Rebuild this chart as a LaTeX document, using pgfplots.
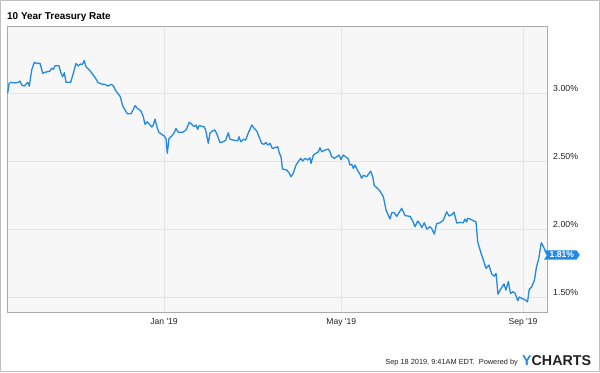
\documentclass[border=0pt]{standalone}
\usepackage{fontspec}
\setmainfont{Liberation Sans}
\usepackage{pgfplots}
\pgfplotsset{compat=1.18}
\usepackage{pgfplotstable}
\usetikzlibrary{shapes.symbols}
\definecolor{ycblue}{RGB}{33,137,230}
\definecolor{plotbg}{RGB}{247,247,247}
\definecolor{gridc}{RGB}{228,228,228}
\definecolor{framec}{RGB}{170,170,170}
\definecolor{txt}{RGB}{34,34,34}

\pgfplotstableread{
d v
-105.8 3.000
-104.9 3.071
-103.6 3.079
-100.9 3.074
-98.6 3.079
-97.5 3.088
-96.3 3.059
-94.6 3.051
-92.3 3.079
-91.2 3.051
-89.6 3.169
-87.8 3.226
-86.2 3.218
-83.9 3.218
-82.1 3.145
-80.6 3.152
-77.2 3.162
-76.0 3.182
-74.9 3.174
-73.8 3.201
-71.1 3.201
-69.7 3.145
-68.6 3.120
-67.5 3.149
-66.3 3.079
-64.8 3.079
-63.2 3.079
-61.4 3.145
-59.6 3.218
-58.0 3.199
-56.7 3.213
-55.3 3.211
-54.0 3.238
-52.8 3.193
-50.1 3.164
-47.9 3.132
-45.6 3.096
-44.9 3.079
-42.2 3.066
-39.9 3.064
-38.1 3.051
-35.9 3.064
-34.3 3.054
-32.7 3.017
-30.9 2.993
-29.6 2.973
-28.0 2.907
-26.4 2.875
-24.8 2.848
-22.3 2.848
-21.0 2.875
-19.6 2.907
-18.1 2.888
-15.6 2.868
-14.0 2.826
-12.9 2.770
-11.3 2.789
-10.0 2.772
-8.3 2.750
-7.2 2.765
-6.1 2.809
-4.5 2.740
-3.4 2.711
-1.6 2.696
0.2 2.684
1.4 2.660
2.2 2.557
3.4 2.667
5.2 2.684
7.0 2.711
8.1 2.740
9.7 2.711
12.4 2.711
14.7 2.726
15.4 2.740
17.1 2.785
18.8 2.770
20.5 2.752
21.7 2.765
22.8 2.733
23.7 2.760
25.5 2.757
27.1 2.752
28.2 2.728
30.0 2.630
31.1 2.704
32.7 2.721
34.5 2.728
36.1 2.691
37.9 2.635
40.1 2.642
41.8 2.654
43.5 2.708
44.7 2.660
46.9 2.654
49.9 2.649
50.8 2.679
51.9 2.642
53.7 2.660
55.3 2.654
57.1 2.708
58.2 2.733
59.4 2.765
61.1 2.740
62.8 2.721
64.3 2.679
66.1 2.630
67.7 2.623
68.9 2.637
70.2 2.618
71.8 2.630
73.3 2.593
75.1 2.598
77.0 2.605
78.1 2.557
79.2 2.532
80.2 2.441
83.1 2.434
84.8 2.410
86.0 2.385
87.5 2.410
89.4 2.471
90.9 2.495
92.5 2.520
93.9 2.500
95.5 2.520
97.3 2.507
98.8 2.524
99.5 2.483
101.1 2.544
102.9 2.557
104.5 2.568
105.6 2.598
106.8 2.568
109.0 2.581
111.2 2.588
112.4 2.568
113.5 2.532
115.3 2.520
116.9 2.532
118.5 2.544
119.8 2.512
121.4 2.544
123.0 2.532
124.8 2.515
125.9 2.471
127.1 2.476
128.2 2.446
129.3 2.471
130.9 2.434
132.7 2.402
133.8 2.373
134.9 2.395
137.2 2.385
139.9 2.426
141.3 2.385
142.4 2.318
144.0 2.305
146.2 2.279
148.5 2.238
150.3 2.140
153.0 2.074
154.2 2.120
155.9 2.120
157.5 2.093
160.9 2.152
163.2 2.099
166.6 2.093
168.4 2.059
169.9 2.017
171.8 2.059
173.3 2.037
174.5 2.011
176.2 2.046
177.9 2.000
180.1 2.017
181.2 2.004
183.0 1.963
184.6 2.040
186.9 2.046
189.1 2.066
191.4 2.127
193.0 2.096
195.2 2.108
196.3 2.125
198.2 2.044
200.4 2.049
202.6 2.046
203.8 2.074
204.9 2.051
205.6 2.079
207.2 2.074
210.1 2.057
211.2 2.054
212.4 1.904
214.6 1.824
216.2 1.772
218.0 1.711
220.0 1.735
221.9 1.669
223.6 1.654
224.8 1.674
226.1 1.522
228.6 1.570
230.2 1.596
231.5 1.551
233.1 1.614
234.6 1.526
236.1 1.539
237.6 1.529
239.5 1.473
240.5 1.500
242.2 1.490
244.4 1.480
246.1 1.465
247.3 1.557
248.9 1.574
250.8 1.625
252.1 1.717
253.7 1.783
255.4 1.899
256.9 1.870
259.3 1.810
}\rates

\begin{document}
\begin{tikzpicture}[x=1bp,y=1bp]
\useasboundingbox (0,0) rectangle (600,372);
\fill[white] (0,0) rectangle (600,372);
\draw[line width=1bp, black!25] (0.5,0.5) rectangle (599.5,371.5);
\node[anchor=base west, inner sep=0pt, font=\bfseries\fontsize{10}{12}\selectfont, text=black] at (7,352.7) {10 Year Treasury Rate};
\begin{axis}[
  at={(7bp,60bp)}, anchor=south west,
  scale only axis, width=540bp, height=286bp,
  xmin=-106.3, xmax=259.3, ymin=1.39, ymax=3.493,
  axis background/.style={fill=plotbg},
  axis line style={framec, line width=0.8bp},
  grid=major, major grid style={gridc, line width=0.8bp},
  major tick length=0pt,
  xtick={0,120,243},
  xticklabels={Jan \textquotesingle19, May \textquotesingle19, Sep \textquotesingle19},
  xticklabel style={anchor=north, inner sep=0pt, yshift=-6.5bp, font=\fontsize{8.6}{10}\selectfont, text=txt},
  ytick={1.5,2.0,2.5,3.0},
  yticklabel pos=right,
  yticklabel={\pgfmathprintnumber[fixed,fixed zerofill,precision=2]{\tick}\%},
  yticklabel style={anchor=base west, inner sep=0pt, xshift=6bp, yshift=1.5bp, font=\fontsize{8.8}{10}\selectfont, text=txt},
  /pgf/number format/assume math mode=true,
  clip=false,
]
\addplot[ycblue, line width=1.3bp, line join=round] table[x=d,y=v] {\rates};
\node[signal, signal from=west, signal pointer angle=110, fill=ycblue, text=white,
  font=\bfseries\fontsize{8.6}{10}\selectfont, inner xsep=2.5pt, inner ysep=1.6pt, anchor=west]
  at (axis cs:259.3,1.81) {1.81\%};
\end{axis}
\node[anchor=base east, inner sep=0pt, font=\fontsize{7.4}{9}\selectfont, text=txt] at (518,8) {Sep 18 2019, 9:41AM EDT.\ \ Powered by};
\node[anchor=base west, inner sep=0pt, font=\bfseries\fontsize{14.3}{16}\selectfont] at (522,6.7) {\textcolor{ycblue}{Y}\textcolor{txt}{CHARTS}};
\end{tikzpicture}
\end{document}
